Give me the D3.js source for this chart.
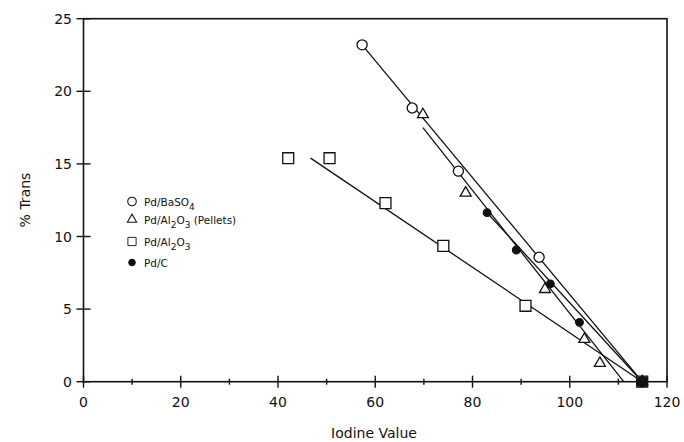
<!DOCTYPE html>
<html>
<head>
<meta charset="utf-8">
<script src="https://cdn.jsdelivr.net/npm/d3@7.9.0/dist/d3.min.js"></script>
<style>
  body { margin: 0; background: #fff; }
  text { font-family: "DejaVu Sans", sans-serif; fill: #111; }
</style>
</head>
<body>
<svg id="chart" width="684" height="442"></svg>
<script>
// data (iodine value, % trans)
const baso4 = [[57.3, 23.2], [67.6, 18.85], [77.1, 14.5], [93.7, 8.57], [114.9, 0]];
const pellets = [[69.8, 18.4], [78.6, 13.0], [94.9, 6.36], [103.0, 2.92], [106.2, 1.27], [114.9, 0]];
const alumina = [[42.1, 15.39], [50.6, 15.39], [62.1, 12.3], [74.0, 9.35], [90.9, 5.23], [114.9, 0]];
const carbon = [[83.0, 11.64], [89.0, 9.07], [96.0, 6.73], [102.0, 4.09], [114.9, 0]];

// fitted lines drawn on the original [x1, y1, x2, y2]
const fitLines = [
  [57.3, 23.2, 114.9, 0],
  [69.8, 17.5, 111.1, 0],
  [46.7, 15.4, 114.9, 0],
  [83.0, 11.64, 114.9, 0]
];

const xMajor = [0, 20, 40, 60, 80, 100, 120];
const xMinor = [10, 30, 50, 70, 90, 110];
const yMajor = [0, 5, 10, 15, 20, 25];

const svg = d3.select('#chart');
const x = d3.scaleLinear().domain([0, 120]).range([83.5, 667]);
const y = d3.scaleLinear().domain([0, 25]).range([381.7, 18.7]);

// frame
svg.append('rect')
  .attr('x', x(0)).attr('y', y(25))
  .attr('width', x(120) - x(0)).attr('height', y(0) - y(25))
  .attr('fill', 'none').attr('stroke', '#111').attr('stroke-width', 1.6);

// x ticks
svg.selectAll('.xmaj').data(xMajor).enter().append('line')
  .attr('x1', d => x(d)).attr('x2', d => x(d))
  .attr('y1', y(0) - 6).attr('y2', y(0) + 6)
  .attr('stroke', '#111').attr('stroke-width', 1.4);
svg.selectAll('.xmin').data(xMinor).enter().append('line')
  .attr('x1', d => x(d)).attr('x2', d => x(d))
  .attr('y1', y(0) - 3).attr('y2', y(0) + 3)
  .attr('stroke', '#111').attr('stroke-width', 1.4);
svg.selectAll('.xlab').data(xMajor).enter().append('text')
  .attr('x', d => x(d)).attr('y', 407)
  .attr('text-anchor', 'middle').attr('font-size', 14)
  .text(d => d);

// y ticks
svg.selectAll('.ymaj').data(yMajor).enter().append('line')
  .attr('x1', x(0) - 7).attr('x2', x(0) + 7)
  .attr('y1', d => y(d)).attr('y2', d => y(d))
  .attr('stroke', '#111').attr('stroke-width', 1.4);
svg.selectAll('.ylab').data(yMajor).enter().append('text')
  .attr('x', 72).attr('y', d => y(d) + 5)
  .attr('text-anchor', 'end').attr('font-size', 14)
  .text(d => d);

// axis titles
svg.append('text')
  .attr('x', 374).attr('y', 438)
  .attr('text-anchor', 'middle').attr('font-size', 14)
  .text('Iodine Value');
svg.append('text')
  .attr('transform', 'translate(30,200) rotate(-90)')
  .attr('text-anchor', 'middle').attr('font-size', 14)
  .text('% Trans');

// fitted lines
svg.selectAll('.fit').data(fitLines).enter().append('line')
  .attr('x1', d => x(d[0])).attr('y1', d => y(d[1]))
  .attr('x2', d => x(d[2])).attr('y2', d => y(d[3]))
  .attr('stroke', '#111').attr('stroke-width', 1.3);

// markers
const circleSym = d3.symbol().type(d3.symbolCircle).size(80);
const triSym = d3.symbol().type(d3.symbolTriangle).size(52);
const sqSym = d3.symbol().type(d3.symbolSquare).size(120);
const dotSym = d3.symbol().type(d3.symbolCircle).size(45);

function drawSeries(data, sym, filled) {
  svg.selectAll(null).data(data).enter().append('path')
    .attr('d', sym)
    .attr('transform', d => `translate(${x(d[0])},${y(d[1])})`)
    .attr('fill', filled ? '#111' : '#fff')
    .attr('stroke', '#111').attr('stroke-width', 1.3);
}
drawSeries(alumina, sqSym, false);
drawSeries(baso4, circleSym, false);
drawSeries(pellets, triSym, false);
drawSeries(carbon, dotSym, true);

// end point where all series meet
svg.append('path')
  .attr('d', d3.symbol().type(d3.symbolSquare).size(100))
  .attr('transform', `translate(${x(114.9)},${y(0)})`)
  .attr('fill', '#111');

// legend
const legendRows = [
  { sym: circleSym, filled: false, parts: [['Pd/BaSO', ''], ['4', 'sub']] },
  { sym: triSym, filled: false, parts: [['Pd/Al', ''], ['2', 'sub'], ['O', ''], ['3', 'sub'], [' (Pellets)', '']] },
  { sym: sqSym, filled: false, parts: [['Pd/Al', ''], ['2', 'sub'], ['O', ''], ['3', 'sub']] },
  { sym: dotSym, filled: true, parts: [['Pd/C', '']] }
];
const legendY = [201.5, 219.5, 241.5, 262.5];
legendRows.forEach((row, i) => {
  const g = svg.append('g').attr('transform', `translate(132,${legendY[i]})`);
  g.append('path')
    .attr('d', row.sym)
    .attr('fill', row.filled ? '#111' : '#fff')
    .attr('stroke', '#111').attr('stroke-width', 1.2)
    .attr('transform', i === 2 ? 'scale(0.75)' : 'scale(0.85)');
  const t = g.append('text').attr('x', 12).attr('y', 4).attr('font-size', 10.5);
  row.parts.forEach(p => {
    const ts = t.append('tspan').text(p[0]);
    if (p[1] === 'sub') ts.attr('dy', 4).attr('font-size', 9);
    else if (t.selectAll('tspan').size() > 1) ts.attr('dy', -4);
  });
});
</script>
</body>
</html>
